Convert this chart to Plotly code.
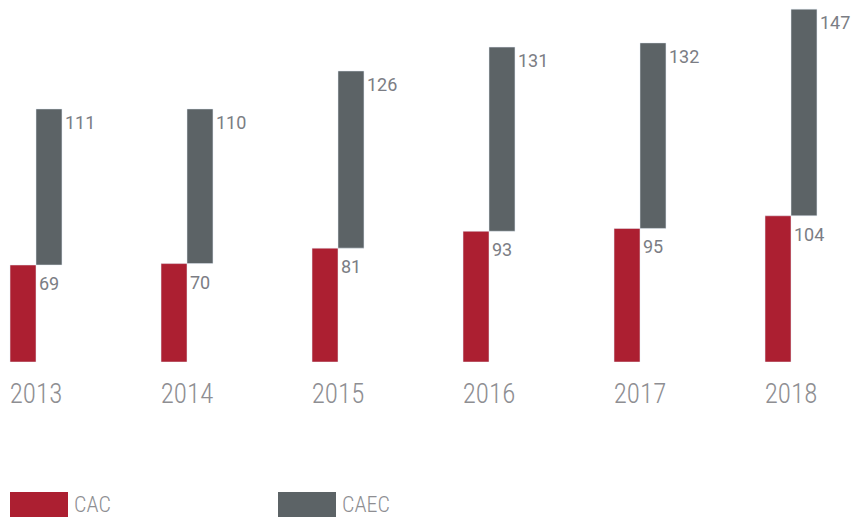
import plotly.graph_objects as go

years = ["2013", "2014", "2015", "2016", "2017", "2018"]
cac = [69, 70, 81, 93, 95, 104]
caec = [111, 110, 126, 131, 132, 147]
series_names = ["CAC", "CAEC"]
colors = ["#AC1F31", "#5C6366"]

FW, FH = 853, 518
PB = 362           # plot bottom in figure px

W = 0.172
label_font = dict(family="Roboto, sans-serif", size=18, color="#7B7D84")
tick_font = dict(family="Roboto Condensed, Liberation Sans Narrow, Roboto, sans-serif", size=27, color="#8E8E92", weight=300)

fig = go.Figure()
fig.add_trace(go.Bar(x=years, y=cac, name=series_names[0], marker_color=colors[0],
                     width=W, offset=-W, showlegend=False))
fig.add_trace(go.Bar(x=years, y=caec, base=cac, name=series_names[1], marker_color=colors[1],
                     width=W, offset=0, showlegend=False))

annotations = []
for i, (a, b) in enumerate(zip(cac, caec)):
    annotations.append(dict(x=i, y=a, xref="x", yref="y", text=str(a), showarrow=False,
                            xanchor="left", yanchor="top", xshift=1, yshift=-6, font=label_font))
    annotations.append(dict(x=i + W, y=a + b, xref="x", yref="y", text=str(b), showarrow=False,
                            xanchor="left", yanchor="top", xshift=1, yshift=-1, font=label_font))

shapes = []
leg_x = [10, 278]
for name, col, lx in zip(series_names, colors, leg_x):
    shapes.append(dict(type="rect", xref="paper", yref="paper",
                       x0=lx / FW, x1=(lx + 58) / FW,
                       y0=(PB - 517) / PB, y1=(PB - 492) / PB,
                       fillcolor=col, line=dict(width=0)))
    annotations.append(dict(x=(lx + 62) / FW, y=(PB - 504.5) / PB, xref="paper", yref="paper",
                            text=name, showarrow=False, xanchor="left", yanchor="middle",
                            font=dict(family=tick_font["family"], size=22, color="#8E8E92", weight=300)))

fig.update_layout(
    width=FW, height=FH,
    margin=dict(l=0, r=0, t=0, b=FH - PB),
    barmode="overlay",
    plot_bgcolor="white", paper_bgcolor="white",
    showlegend=False,
    hovermode=False,
    annotations=annotations,
    shapes=shapes,
    xaxis=dict(type="category", range=[-36 / 151, (FW - 36) / 151], showgrid=False, zeroline=False,
               showline=False, ticks="", tickfont=tick_font, ticklabelstandoff=13),
    yaxis=dict(range=[0, 257.5], visible=False, showgrid=False, zeroline=False),
)

fig.write_html("out.html", config={"displayModeBar": False},
               post_script="document.body.style.margin='0';document.body.style.overflow='hidden';")
